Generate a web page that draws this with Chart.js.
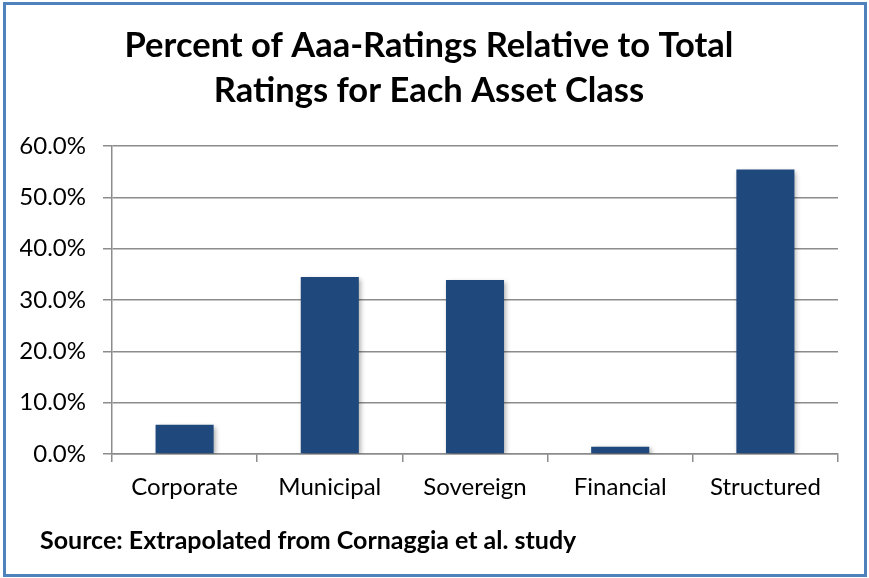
<!DOCTYPE html>
<html>
<head>
<meta charset="utf-8">
<script src="https://cdn.jsdelivr.net/npm/chart.js@4"></script>
<style>
  html, body { margin: 0; padding: 0; background: #fff; }
  #wrap { position: relative; width: 869px; height: 578px; }
  #frame {
    position: absolute; left: 3px; top: 2px; width: 864px; height: 575px;
    box-sizing: border-box; border: 3px solid #4F81BD; pointer-events: none;
  }
  #source {
    position: absolute; left: 40px; top: 524px;
    font: bold 25px Lato, 'Open Sans', sans-serif; color: #000; white-space: nowrap;
  }
</style>
</head>
<body>
<div id="wrap">
  <canvas id="chart" width="869" height="578"></canvas>
  <div id="source"></div>
  <div id="frame"></div>
</div>
<script>
// chart data
const categories = ['Corporate', 'Municipal', 'Sovereign', 'Financial', 'Structured'];
const aaaPercent = [5.7, 34.5, 33.9, 1.4, 55.4];
const yTicks = [0, 10, 20, 30, 40, 50, 60];

const titleLines = ['Percent of Aaa-Ratings Relative to Total', 'Ratings for Each Asset Class'];
const sourceText = 'Source: Extrapolated from Cornaggia et al. study';

const FONT = "Lato, 'Open Sans', sans-serif";

document.getElementById('source').textContent = sourceText;

// soft shadow behind the bars
const barShadow = {
    id: 'barShadow',
    beforeDatasetsDraw(chart) {
        const ctx = chart.ctx;
        ctx.save();
        ctx.shadowColor = 'rgba(0,0,0,0.35)';
        ctx.shadowBlur = 5;
        ctx.shadowOffsetX = 2;
        ctx.shadowOffsetY = 2;
    },
    afterDatasetsDraw(chart) {
        chart.ctx.restore();
    }
};

const ctx = document.getElementById('chart').getContext('2d');
new Chart(ctx, {
    type: 'bar',
    data: {
        labels: categories,
        datasets: [{
            data: aaaPercent,
            backgroundColor: '#1F497D',
            borderWidth: 0,
            barPercentage: 0.4,
            categoryPercentage: 1.0
        }]
    },
    options: {
        responsive: false,
        animation: false,
        layout: { padding: { left: 20, right: 31, top: 0, bottom: 64 } },
        plugins: {
            legend: { display: false },
            tooltip: { enabled: false },
            title: {
                display: true,
                text: titleLines,
                color: '#000',
                font: { family: FONT, size: 34.5, weight: 'bold', lineHeight: 1.3 },
                padding: { top: 23.6, bottom: 32.7 }
            }
        },
        scales: {
            x: {
                afterFit: s => { s.height = 60; },
                grid: {
                    offset: true,
                    drawOnChartArea: false,
                    drawTicks: true,
                    tickLength: 8,
                    color: '#8c8c8c',
                    lineWidth: 1.5
                },
                border: { display: true, color: '#8c8c8c', width: 1.5 },
                ticks: {
                    color: '#000',
                    padding: 11,
                    font: { family: FONT, size: 24 }
                }
            },
            y: {
                min: 0,
                max: 60,
                afterFit: s => { s.width = 92; },
                afterBuildTicks: s => { s.ticks = yTicks.map(v => ({ value: v })); },
                grid: {
                    color: '#8c8c8c',
                    lineWidth: 1.5,
                    drawTicks: true,
                    tickLength: 9
                },
                border: { display: true, color: '#8c8c8c', width: 1.5 },
                ticks: {
                    color: '#000',
                    padding: 17,
                    font: { family: FONT, size: 24 },
                    callback: v => v.toFixed(1) + '%'
                }
            }
        }
    },
    plugins: [barShadow]
});
</script>
</body>
</html>
